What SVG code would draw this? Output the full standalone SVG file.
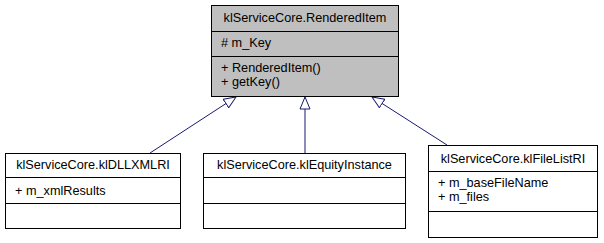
<svg xmlns="http://www.w3.org/2000/svg" width="604" height="243" viewBox="0 0 604 243">
  <style>
    text { font-family: "Liberation Sans", Arial, sans-serif; font-size: 12.7px; fill: #000; }
    .c { text-anchor: middle; }
    .box { fill: #fff; stroke: #000; stroke-width: 1; }
    .base { fill: #bfbfbf; }
    .sep { stroke: #000; stroke-width: 1; }
    .edge { stroke: #191970; stroke-width: 1; fill: none; marker-end: url(#inherit); }
  </style>
  <defs>
    <marker id="inherit" markerUnits="userSpaceOnUse" markerWidth="14" markerHeight="12" refX="12.5" refY="6" orient="auto">
      <path d="M0.5,1 L12.5,6 L0.5,11 Z" fill="#fff" stroke="#191970" stroke-width="1"/>
    </marker>
  </defs>

  <!-- inheritance connectors -->
  <g id="edges">
    <line class="edge" x1="150" y1="153" x2="236" y2="97"/>
    <line class="edge" x1="305" y1="153" x2="305" y2="97"/>
    <line class="edge" x1="447" y1="145" x2="372" y2="97"/>
  </g>

  <!-- base class -->
  <g id="RenderedItem">
    <rect class="box base" x="211.5" y="5.5" width="187" height="91"/>
    <line class="sep" x1="211.5" y1="31.5" x2="398.5" y2="31.5"/>
    <line class="sep" x1="211.5" y1="56.5" x2="398.5" y2="56.5"/>
    <text class="c" x="305" y="22">klServiceCore.RenderedItem</text>
    <text x="221" y="47"># m_Key</text>
    <text x="221" y="72">+ RenderedItem()</text>
    <text x="221" y="86">+ getKey()</text>
  </g>

  <g id="klDLLXMLRI">
    <rect class="box" x="5.5" y="153.5" width="175" height="75"/>
    <line class="sep" x1="5.5" y1="177.5" x2="180.5" y2="177.5"/>
    <line class="sep" x1="5.5" y1="203.5" x2="180.5" y2="203.5"/>
    <text class="c" x="93" y="169">klServiceCore.klDLLXMLRI</text>
    <text x="15" y="195">+ m_xmlResults</text>
  </g>

  <g id="klEquityInstance">
    <rect class="box" x="203.5" y="153.5" width="202" height="75"/>
    <line class="sep" x1="203.5" y1="177.5" x2="405.5" y2="177.5"/>
    <line class="sep" x1="203.5" y1="203.5" x2="405.5" y2="203.5"/>
    <text class="c" x="304.5" y="169">klServiceCore.klEquityInstance</text>
  </g>

  <g id="klFileListRI">
    <rect class="box" x="428.5" y="145.5" width="169" height="92"/>
    <line class="sep" x1="428.5" y1="171.5" x2="597.5" y2="171.5"/>
    <line class="sep" x1="428.5" y1="211.5" x2="597.5" y2="211.5"/>
    <text class="c" x="513" y="163">klServiceCore.klFileListRI</text>
    <text x="438" y="187">+ m_baseFileName</text>
    <text x="438" y="201">+ m_files</text>
  </g>
</svg>
